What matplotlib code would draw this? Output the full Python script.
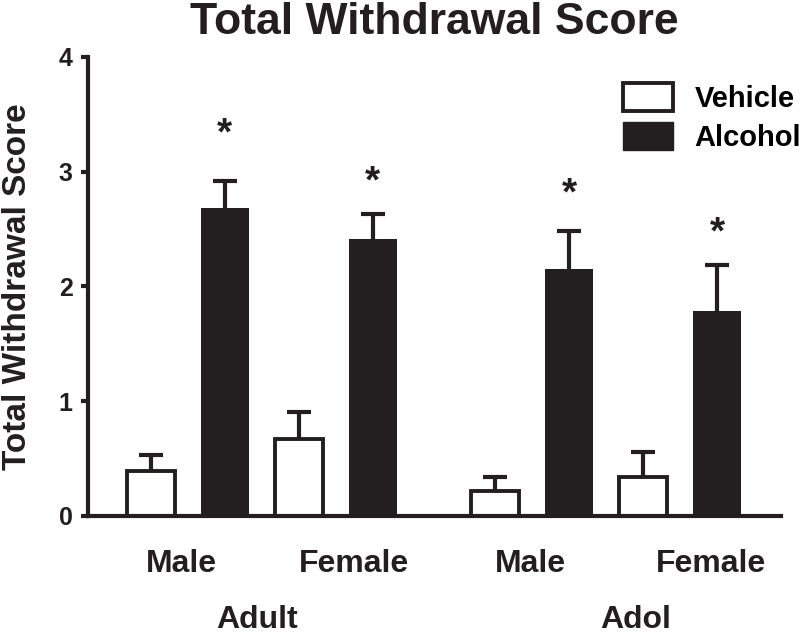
import matplotlib
matplotlib.use('Agg')
import matplotlib.pyplot as plt
import numpy as np
from matplotlib.patches import Patch

plt.rcParams['font.family'] = ['Liberation Sans', 'DejaVu Sans']
plt.rcParams['font.weight'] = 'bold'

# values
sex = ['Male', 'Female', 'Male', 'Female']
age = ['Adult', 'Adol']
vehicle = [0.39, 0.67, 0.22, 0.34]
vehicle_sem = [0.14, 0.24, 0.12, 0.22]
alcohol = [2.68, 2.41, 2.15, 1.79]
alcohol_sem = [0.24, 0.22, 0.33, 0.40]
star_y = [3.32, 2.91, 2.80, 2.46]

dark = '#231f20'

fig = plt.figure(figsize=(8, 6.37), dpi=100)
ax = fig.add_axes([0.11, 0.19, 0.866, 0.7206])

xv = np.array([0, 2, 4.66, 6.66])
xa = xv + 1
w = 0.65

ax.bar(xv, vehicle, w, color='white', edgecolor=dark, linewidth=2.8, zorder=2)
ax.bar(xa, alcohol, w, color=dark, linewidth=0, zorder=2)
for x, vals, sem in [(xv, vehicle, vehicle_sem), (xa, alcohol, alcohol_sem)]:
    eb = ax.errorbar(x, vals, yerr=[np.zeros(4), sem], fmt='none', ecolor=dark,
                     elinewidth=3, capsize=8.6, capthick=3, zorder=1)
    # only the upper whisker gets a cap
    for cl in eb[1]:
        if np.allclose(cl.get_ydata(), vals):
            cl.set_visible(False)

for x, y in zip(xa, star_y):
    ax.text(x, y, '*', ha='center', va='center', fontsize=28, fontweight='bold', color=dark)

ax.set_xlim(-0.85, 8.52)
ax.set_ylim(0, 4)
ax.set_yticks([0, 1, 2, 3, 4])
ax.tick_params(axis='y', length=5, width=3, pad=6, labelsize=18, colors=dark)
ax.set_xticks([0.41, 2.75, 5.14, 7.58])
ax.set_xticklabels(sex, fontsize=23, fontweight='bold')
ax.tick_params(axis='x', length=0, pad=24, colors=dark)
for s in ['top', 'right']:
    ax.spines[s].set_visible(False)
for s in ['left', 'bottom']:
    ax.spines[s].set_linewidth(3)
    ax.spines[s].set_color(dark)

for x, lab in zip([1.44, 6.55], age):
    ax.text(x, -0.245, lab, transform=ax.get_xaxis_transform(), ha='center',
            va='baseline', fontsize=23, fontweight='bold', color=dark)

ax.set_ylabel('Total Withdrawal Score', fontsize=24, fontweight='bold', color=dark)
ax.yaxis.set_label_coords(-0.08, 0.5)

fig.text(0.543, 0.9466, 'Total Withdrawal Score', ha='center', va='baseline',
         fontsize=32, fontweight='bold', color=dark)

handles = [Patch(facecolor='white', edgecolor=dark, linewidth=2.8),
           Patch(facecolor=dark, edgecolor=dark)]
ax.legend(handles, ['Vehicle', 'Alcohol'], loc='upper left',
          bbox_to_anchor=(623 / 800, 1 - 83 / 637), bbox_transform=fig.transFigure,
          frameon=False, fontsize=21, handlelength=1.7, handleheight=1.1,
          handletextpad=0.75, labelspacing=0.3, borderpad=0, borderaxespad=0)

fig.savefig('out.png', dpi=100)
